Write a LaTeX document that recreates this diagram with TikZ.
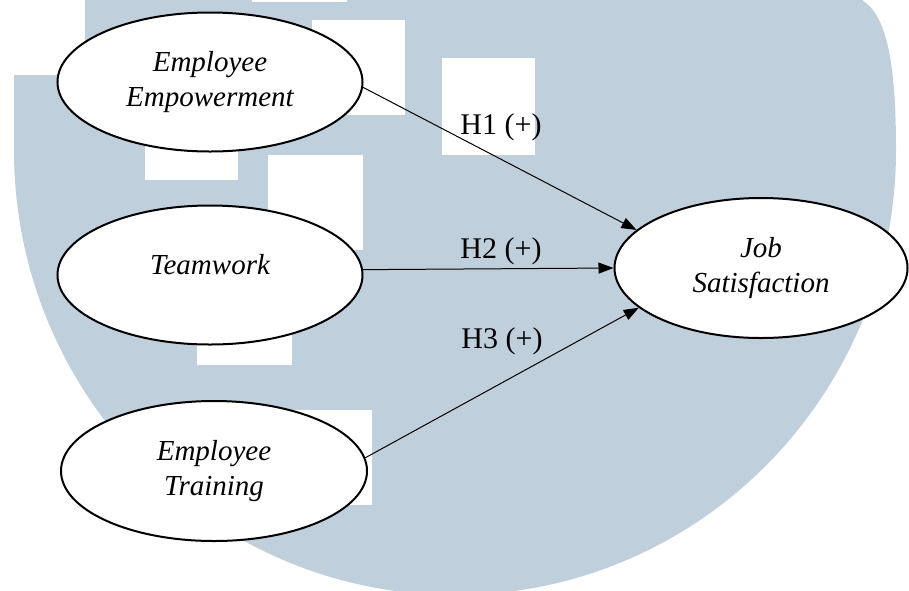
\documentclass[tikz,border=0pt]{standalone}
\usepackage{fontspec}
\setmainfont{Liberation Serif}
\usetikzlibrary{arrows.meta,shapes.geometric}
\definecolor{wmblue}{RGB}{192,207,220}
\begin{document}
\begin{tikzpicture}[x=1pt,y=-1pt,
  construct/.style={ellipse, draw=black, line width=2pt, fill=white,
    inner sep=0pt, align=center,
    font=\fontsize{29}{35}\selectfont\itshape},
  link/.style={line width=1pt, -{Triangle[length=15pt,width=11pt]}},
  hyp/.style={font=\fontsize{30}{35}\selectfont, inner sep=0pt},
  tile/.style={fill=white, draw=none}]
\useasboundingbox (0,0) rectangle (909,590);
\clip (0,0) rectangle (909,590);
\fill[white] (0,0) rectangle (909,590);

% watermark shield
\fill[wmblue] (85,0) -- (862,0)
  .. controls (886,15) and (896,60) .. (896,150)
  arc[start angle=0, end angle=180, x radius=441, y radius=445]
  -- (14,75) -- (85,75) -- cycle;

% white tiles of the watermark
\fill[tile] (252,-20) rectangle (347,2);
\fill[tile] (312,20) rectangle (405,115);
\fill[tile] (442,58) rectangle (535,155);
\fill[tile] (268,155) rectangle (363,250);
\fill[tile] (145,85) rectangle (238,180);
\fill[tile] (197,270) rectangle (292,365);
\fill[tile] (279,410) rectangle (372,505);

% constructs
\node[construct, minimum width=305pt, minimum height=139pt] (ee) at (210,82)
  {Employee\\Empowerment};
\node[construct, minimum width=305pt, minimum height=139pt,
  label={[name=twtext, yshift=10pt, font=\fontsize{29}{35}\selectfont\itshape]center:Teamwork}]
  (tw) at (210,275) {};
\node[construct, minimum width=306pt, minimum height=140pt] (et) at (214,471)
  {Employee\\Training};
\node[construct, minimum width=293pt, minimum height=140pt] (js) at (761,268)
  {Job\\Satisfaction};

% hypotheses
\draw[link] (ee.-2) -- (js.163);
\draw[link] (tw.2) -- (js.180);
\draw[link] (et.5) -- (js.198);

\node[hyp] (h1) at (501,127) {H1 (+)};
\node[hyp] (h2) at (501,251) {H2 (+)};
\node[hyp] (h3) at (502,341) {H3 (+)};
\end{tikzpicture}
\end{document}
